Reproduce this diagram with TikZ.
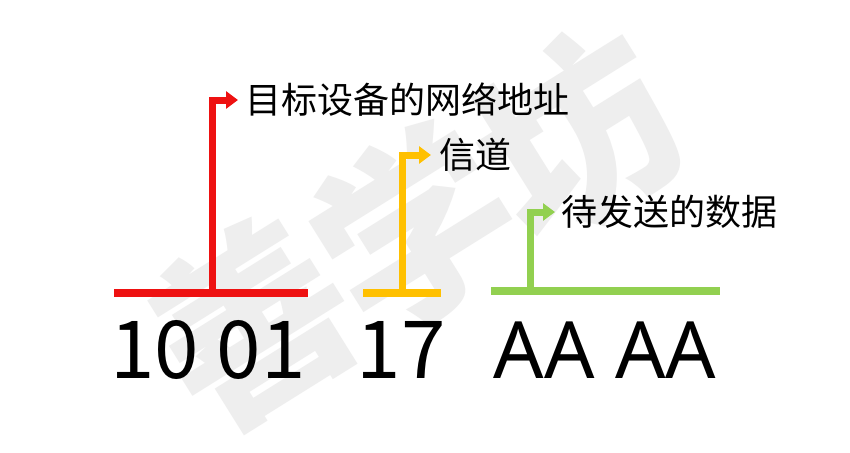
\documentclass[tikz,border=0pt]{standalone}
\usepackage{fontspec}
\setmainfont{Noto Sans CJK SC}
\newfontfamily\latinfont{Noto Sans}
\usetikzlibrary{arrows.meta}
\definecolor{cred}{HTML}{EE1111}
\definecolor{cyel}{HTML}{FFC000}
\definecolor{cgrn}{HTML}{92D050}
\definecolor{wmark}{HTML}{EEEEEE}
\begin{document}
\begin{tikzpicture}[x=1pt,y=1pt,
  bar/.style={inner sep=0pt, minimum height=7.5pt},
  lab/.style={anchor=west, inner sep=0pt, font=\fontsize{36}{36}\selectfont},
  big/.style={inner sep=0pt, anchor=base, font=\fontsize{80}{80}\selectfont},
  wm/.style={rotate=32, text=wmark, inner sep=0pt, font=\fontsize{195}{195}\selectfont\bfseries},
  pointer/.style={line width=7pt, line join=miter, -{Triangle[length=12pt,width=17pt]}}]
\useasboundingbox (0,0) rectangle (850,-452);
\fill[white] (0,0) rectangle (850,-452);
\node[wm] (wm1) at (252,-322) {善};
\node[wm] (wm2) at (414,-228) {学};
\node[wm] (wm3) at (576,-134) {坊};
% bars
\node[bar, fill=cred, minimum width=194pt] (rbar) at (211,-293) {};
\node[bar, fill=cyel, minimum width=78pt] (ybar) at (402,-293) {};
\node[bar, fill=cgrn, minimum width=229pt] (gbar) at (605.5,-291) {};
% labels
\node[lab] (l1) at (245,-100) {目标设备的网络地址};
\node[lab] (l2) at (439,-155) {信道};
\node[lab] (l3) at (561,-212) {待发送的数据};
% pointers
\draw[pointer, cred] ([xshift=1pt]rbar.north) |- ([xshift=-7pt]l1.west);
\draw[pointer, cyel] (ybar.north) |- ([xshift=-8pt]l2.west);
\draw[pointer, cgrn] ([xshift=-75.5pt]gbar.north) |- ([xshift=-6pt]l3.west);
% bytes
\node[big] (b1) at (208,-378) {10 01};
\node[big] (b2) at (401,-378) {17};
\node[big, font=\fontsize{79}{79}\latinfont] (b3) at (605,-378) {AA AA};
\end{tikzpicture}
\end{document}
